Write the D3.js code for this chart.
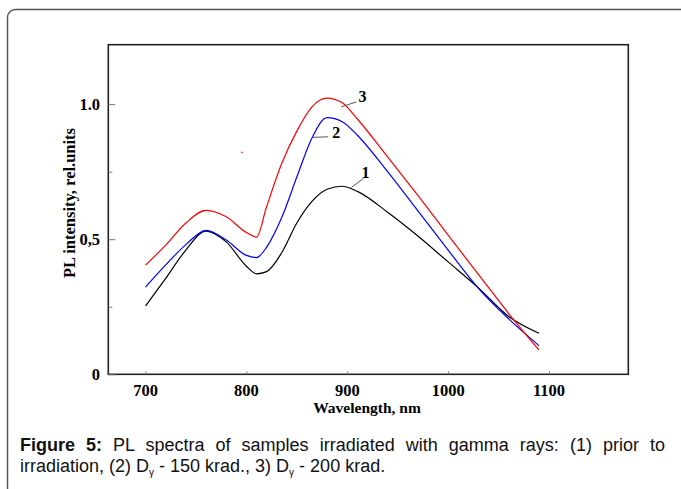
<!DOCTYPE html>
<html>
<head>
<meta charset="utf-8">
<script src="https://cdn.jsdelivr.net/npm/d3@7"></script>
<style>
  body { margin: 0; background: #fff; }
  svg { display: block; }
</style>
</head>
<body>
<div class="svg_container"></div>
<script>
const WIDTH = 681;
const HEIGHT = 489;

// wavelength grid, nm
var wavelengths = [700, 720, 740, 760, 780, 800, 810, 820, 835, 850, 865, 880, 895, 910, 940, 970, 1000, 1030, 1060, 1090];
// (1) prior to irradiation
var series1 = [0.253, 0.355, 0.46, 0.53, 0.49, 0.40, 0.372, 0.38, 0.45, 0.56, 0.64, 0.685, 0.696, 0.677, 0.60, 0.512, 0.416, 0.32, 0.214, 0.152];
// (2) D - 150 krad
var series2 = [0.323, 0.405, 0.48, 0.533, 0.497, 0.44, 0.432, 0.47, 0.58, 0.73, 0.875, 0.95, 0.935, 0.885, 0.75, 0.605, 0.46, 0.318, 0.205, 0.106];
// (3) D - 200 krad
var series3 = [0.404, 0.478, 0.56, 0.607, 0.583, 0.525, 0.508, 0.62, 0.78, 0.90, 0.99, 1.022, 1.005, 0.945, 0.805, 0.662, 0.515, 0.37, 0.225, 0.09];

var seriesColors = ['#000000', '#0000ff', '#ff0000'];

var xTicks = [700, 800, 900, 1000, 1100];
var yTicks = [0, 0.5, 1.0];
var yTickLabels = ['0', '0,5', '1.0'];
var yMinorTicks = [0.25, 0.75];

// curve labels: text, label position, leader start, leader end (wavelength, value)
var curveLabels = ['1', '2', '3'];
var labelPos = [[918, 0.749], [889, 0.897], [915, 1.027]];
var leaderFrom = [[904, 0.691], [866, 0.877], [894, 0.99]];
var leaderTo = [[916, 0.725], [881, 0.879], [909, 1.008]];

// stray red pixel on the original scan
var strayDot = [[795.6, 0.822]];

var _xScale = d3.scaleLinear().domain([663.1, 1178.6]).range([108.3, 628.3]);
var _yScale = d3.scaleLinear().domain([0, 1.22]).range([374.3, 44.7]);

var serif = '"Liberation Serif", "Times New Roman", serif';
var sans = '"Liberation Sans", Arial, sans-serif';

var loadDefault = function () {
  var svg = d3.select('.svg_container').append('svg')
    .attr('width', WIDTH)
    .attr('height', HEIGHT);

  // outer figure frame
  svg.append('rect')
    .attr('x', 7.5).attr('y', 9.5)
    .attr('width', 720).attr('height', 520)
    .attr('rx', 8)
    .attr('fill', 'none')
    .attr('stroke', '#555')
    .attr('stroke-width', 1.5);

  // plot frame
  svg.append('rect')
    .attr('x', _xScale.range()[0]).attr('y', _yScale.range()[1])
    .attr('width', _xScale.range()[1] - _xScale.range()[0])
    .attr('height', _yScale.range()[0] - _yScale.range()[1])
    .attr('fill', 'none')
    .attr('stroke', '#222')
    .attr('stroke-width', 1.6);

  // x axis (ticks pointing inward)
  var xAxis = d3.axisTop(_xScale).tickValues(xTicks).tickSize(3).tickFormat('');
  var gx = svg.append('g')
    .attr('transform', 'translate(0,' + _yScale.range()[0] + ')')
    .call(xAxis);
  gx.select('.domain').remove();
  gx.selectAll('line').attr('stroke', '#777');

  svg.append('g').selectAll('text')
    .data(xTicks).enter().append('text')
    .attr('x', function (d) { return _xScale(d); })
    .attr('y', 396)
    .attr('text-anchor', 'middle')
    .style('font', 'bold 16.5px ' + serif)
    .text(function (d) { return d; });

  // y axis (ticks pointing inward)
  var yAxis = d3.axisRight(_yScale).tickValues(yTicks).tickSize(7).tickFormat('');
  var gy = svg.append('g')
    .attr('transform', 'translate(' + _xScale.range()[0] + ',0)')
    .call(yAxis);
  gy.select('.domain').remove();
  gy.selectAll('line').attr('stroke', '#777');

  var yMinor = d3.axisRight(_yScale).tickValues(yMinorTicks).tickSize(4).tickFormat('');
  var gym = svg.append('g')
    .attr('transform', 'translate(' + _xScale.range()[0] + ',0)')
    .call(yMinor);
  gym.select('.domain').remove();
  gym.selectAll('line').attr('stroke', '#777');

  svg.append('g').selectAll('text')
    .data(yTicks).enter().append('text')
    .attr('x', 100)
    .attr('y', function (d) { return _yScale(d); })
    .attr('dy', '0.35em')
    .attr('text-anchor', 'end')
    .style('font', 'bold 16.5px ' + serif)
    .text(function (d, i) { return yTickLabels[i]; });

  // axis titles
  svg.append('text')
    .attr('x', 367).attr('y', 413)
    .attr('text-anchor', 'middle')
    .style('font', 'bold 15.5px ' + serif)
    .text('Wavelength, nm');

  svg.append('text')
    .attr('transform', 'translate(75,203) rotate(-90)')
    .attr('text-anchor', 'middle')
    .style('font', 'bold 16.5px ' + serif)
    .text('PL  intensity, rel.units');

  // spectra
  var allSeries = [series1, series2, series3];
  var line = d3.line()
    .x(function (d, i) { return _xScale(wavelengths[i]); })
    .y(function (d) { return _yScale(d); })
    .curve(d3.curveMonotoneX);

  svg.append('g').selectAll('path')
    .data(allSeries).enter().append('path')
    .attr('d', function (d) { return line(d); })
    .attr('fill', 'none')
    .attr('stroke', function (d, i) { return seriesColors[i]; })
    .attr('stroke-width', 1.2);

  svg.append('g').selectAll('rect')
    .data(strayDot).enter().append('rect')
    .attr('x', function (d) { return _xScale(d[0]) - 1; })
    .attr('y', function (d) { return _yScale(d[1]) - 0.5; })
    .attr('width', 2).attr('height', 1.5)
    .attr('fill', '#f55');

  // curve number labels with leaders
  var ann = svg.append('g');
  ann.selectAll('line')
    .data(curveLabels).enter().append('line')
    .attr('x1', function (d, i) { return _xScale(leaderFrom[i][0]); })
    .attr('y1', function (d, i) { return _yScale(leaderFrom[i][1]); })
    .attr('x2', function (d, i) { return _xScale(leaderTo[i][0]); })
    .attr('y2', function (d, i) { return _yScale(leaderTo[i][1]); })
    .attr('stroke', '#555')
    .attr('stroke-width', 1);
  ann.selectAll('text')
    .data(curveLabels).enter().append('text')
    .attr('x', function (d, i) { return _xScale(labelPos[i][0]); })
    .attr('y', function (d, i) { return _yScale(labelPos[i][1]); })
    .attr('dy', '0.35em')
    .attr('text-anchor', 'middle')
    .style('font', 'bold 16px ' + serif)
    .text(function (d) { return d; });

  // caption
  var cap1 = svg.append('text')
    .attr('x', 20).attr('y', 451)
    .style('font', '18px ' + sans)
    .attr('fill', '#111');
  cap1.append('tspan').style('font-weight', 'bold').text('Figure 5:');
  cap1.append('tspan').text(' PL spectra of samples irradiated with gamma rays: (1) prior to');
  var natural = cap1.node().getComputedTextLength();
  var spaces = 12;
  cap1.attr('word-spacing', Math.max(0, (665 - 20 - natural) / spaces));

  var cap2 = svg.append('text')
    .attr('x', 20).attr('y', 472)
    .style('font', '18px ' + sans)
    .attr('fill', '#111');
  cap2.append('tspan').text('irradiation, (2) D');
  cap2.append('tspan').attr('dy', 4).style('font-size', '10px').text('γ');
  cap2.append('tspan').attr('dy', -4).text(' - 150 krad., 3) D');
  cap2.append('tspan').attr('dy', 4).style('font-size', '10px').text('γ');
  cap2.append('tspan').attr('dy', -4).text(' - 200 krad.');
};

window.onload = loadDefault;
</script>
</body>
</html>
